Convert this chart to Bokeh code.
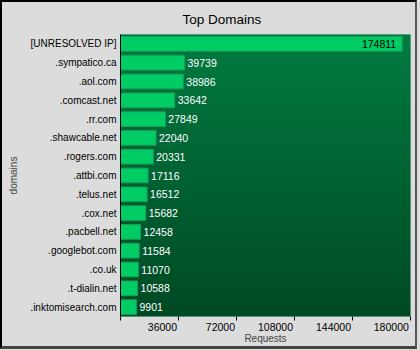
import numpy as np
from bokeh.plotting import figure
from bokeh.models import FixedTicker, InlineStyleSheet
from bokeh.core.properties import value
from bokeh.embed import file_html
from bokeh.resources import INLINE

# ---- data ----
domains = ["[UNRESOLVED IP]", ".sympatico.ca", ".aol.com", ".comcast.net", ".rr.com",
           ".shawcable.net", ".rogers.com", ".attbi.com", ".telus.net", ".cox.net",
           ".pacbell.net", ".googlebot.com", ".co.uk", ".t-dialin.net", ".inktomisearch.com"]
requests = [174811, 39739, 38986, 33642, 27849, 22040, 20331, 17116, 16512, 15682,
            12458, 11584, 11070, 10588, 9901]
x_ticks = [0, 36000, 72000, 108000, 144000, 180000]
title_text = "Top Domains"
x_label = "Requests"
y_label = "domains"

FONT = "Liberation Sans"
n = len(domains)
ypos = np.arange(n)[::-1].astype(float)
vals = np.array(requests, dtype=float)
x_max = x_ticks[-1]

frame_css = InlineStyleSheet(css="""
:host { position: relative; }
:host::after {
  content: ""; position: absolute; left: 0; top: 0; width: 417px; height: 349px;
  box-sizing: border-box; pointer-events: none; z-index: 10;
  border-left: 2px solid #000; border-top: 2px solid #000;
  border-right: 2px solid #555; border-bottom: 3px solid #444;
}
""")

p = figure(width=420, height=350, x_range=(0, x_max), y_range=(-0.5, n - 0.5),
           output_backend="svg", toolbar_location=None,
           min_border_left=120, min_border_right=10, min_border_top=34, min_border_bottom=34,
           background_fill_color="#00602f", border_fill_color="#dcdcdc",
           stylesheets=[frame_css])

# vertical gradient background of the plot area
rows = 282
t = np.linspace(0, 1, rows)[:, None]
c_top = np.array([0, 123, 65], dtype=float)
c_bot = np.array([0, 74, 37], dtype=float)
cols = (c_bot + (c_top - c_bot) * t).astype(np.uint8)
img = np.zeros((rows, 1), dtype=np.uint32)
view = img.view(dtype=np.uint8).reshape((rows, 1, 4))
view[:, 0, :3] = cols
view[:, 0, 3] = 255
p.image_rgba(image=[img], x=0, y=-0.5, dw=x_max, dh=n)

# bars
p.hbar(y=ypos, left=0, right=vals, height=0.78, fill_color="#00cc66",
       line_color="#1f9d57", line_width=1)

# value labels
inside = vals > 0.85 * x_max
p.text(x=vals[~inside], y=ypos[~inside], text=[str(int(v)) for v in vals[~inside]],
       x_offset=3, text_align="left", text_baseline="middle", text_color="white",
       text_font=value(FONT), text_font_size="10.5px")
p.text(x=vals[inside], y=ypos[inside], text=[str(int(v)) for v in vals[inside]],
       x_offset=-6, text_align="right", text_baseline="middle", text_color="black",
       text_font=value(FONT), text_font_size="10.5px")

# title
p.title.text = title_text
p.title.align = "left"
p.title.offset = 62
p.title.text_font = FONT
p.title.text_font_size = "13.5px"
p.title.text_font_style = "normal"
p.title.text_color = "black"
p.title.text_line_height = 0.6
p.title.standoff = 15

# x axis: labels sit just left of their tick (pad with no-break spaces,
# two of which are one digit wide; the last label is kept inside the canvas)
NBSP = "\u00a0"
def tick_label(tk):
    if tk == 0:
        return ""
    s = str(tk)
    pad = 4 if tk == x_ticks[-1] else 2 * len(s) + 1
    return s + NBSP * pad

xa = p.xaxis[0]
xa.ticker = FixedTicker(ticks=x_ticks)
xa.major_label_overrides = {tk: tick_label(tk) for tk in x_ticks}
xa.axis_line_color = None
xa.major_tick_out = 4
xa.major_tick_in = 0
xa.major_tick_line_color = "black"
xa.minor_tick_line_color = None
xa.major_label_text_font = FONT
xa.major_label_text_font_size = "10.5px"
xa.major_label_text_color = "black"
xa.major_label_standoff = 0
xa.axis_label = x_label
xa.axis_label_text_font = FONT
xa.axis_label_text_font_size = "10px"
xa.axis_label_text_font_style = "normal"
xa.axis_label_standoff = -3

# y axis
ya = p.yaxis[0]
ya.ticker = FixedTicker(ticks=list(ypos))
ya.major_label_overrides = {float(y): d for y, d in zip(ypos, domains)}
ya.major_tick_out = 0
ya.major_tick_in = 0
ya.minor_tick_line_color = None
ya.axis_line_color = "black"
ya.major_label_text_font = FONT
ya.major_label_text_font_size = "10px"
ya.major_label_text_color = "black"
ya.major_label_standoff = 4
ya.axis_label = y_label
ya.axis_label_text_font = FONT
ya.axis_label_text_font_size = "10px"
ya.axis_label_text_font_style = "normal"
ya.axis_label_standoff = 8

# grid
p.xgrid.ticker = FixedTicker(ticks=x_ticks)
p.xgrid.grid_line_color = "white"
p.xgrid.grid_line_dash = "1 1"
p.ygrid.grid_line_color = None
p.outline_line_color = None

open("out.html", "w").write(file_html(p, INLINE))
